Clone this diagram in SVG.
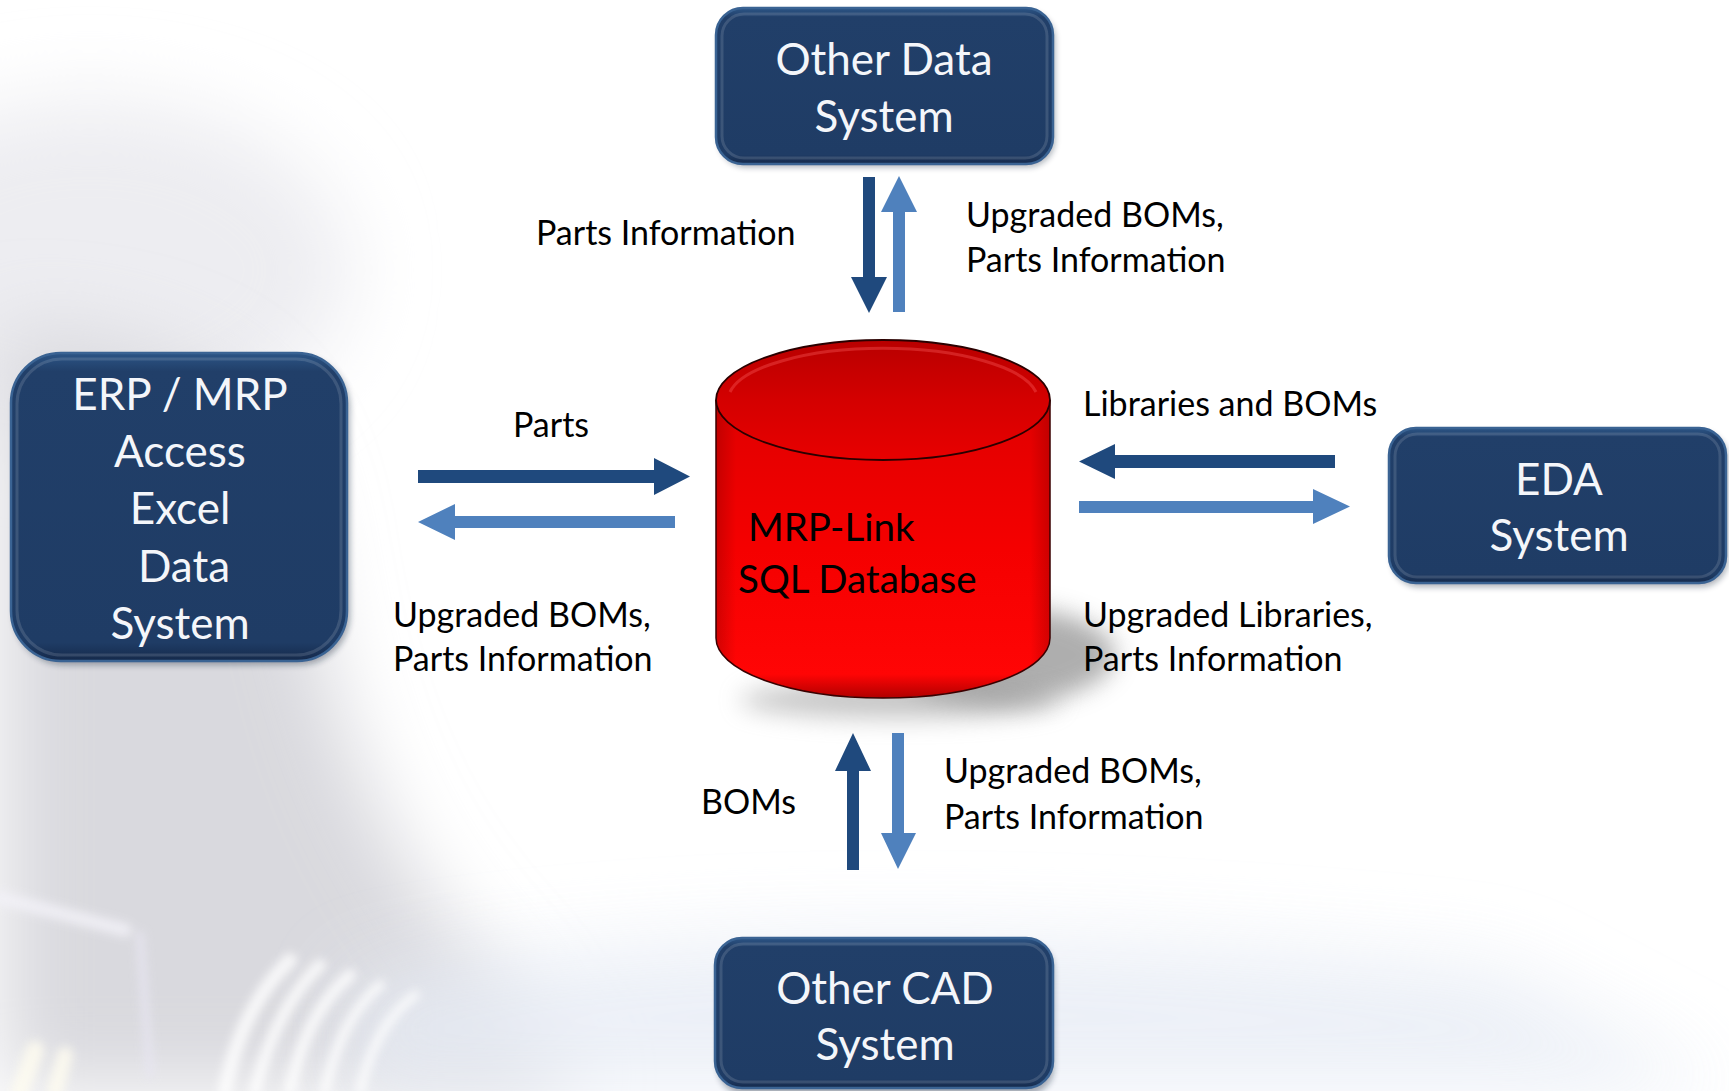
<svg xmlns="http://www.w3.org/2000/svg" width="1729" height="1091" viewBox="0 0 1729 1091">
<defs>
  <style>
    .box { fill: url(#boxFill); stroke: #3A6393; stroke-width: 2.5; }
    .boxin { fill: none; stroke: #FFFFFF; stroke-opacity: 0.13; stroke-width: 3; }
    .btxt { font-family: Lato, "Open Sans", "DejaVu Sans", sans-serif; font-size: 44px; fill: #F4F6FA; text-anchor: middle; }
    .lbl { font-family: Lato, "Open Sans", "DejaVu Sans", sans-serif; font-size: 34px; fill: #000000; }
    .dbtxt { font-family: Lato, "Open Sans", "DejaVu Sans", sans-serif; font-size: 38.5px; fill: #000000; }
    .dark { fill: #1F497D; }
    .light { fill: #4F81BD; }
  </style>
  <linearGradient id="boxFill" x1="0" y1="0" x2="0" y2="1">
    <stop offset="0" stop-color="#2C5586"/>
    <stop offset="0.06" stop-color="#213F69"/>
    <stop offset="0.94" stop-color="#1F3C65"/>
    <stop offset="1" stop-color="#15294A"/>
  </linearGradient>
  <linearGradient id="topFace" x1="0" y1="0" x2="0" y2="1">
    <stop offset="0" stop-color="#B80000"/>
    <stop offset="0.5" stop-color="#D40000"/>
    <stop offset="1" stop-color="#E80000"/>
  </linearGradient>
  <linearGradient id="bodyFill" x1="0" y1="0" x2="0" y2="1">
    <stop offset="0" stop-color="#E00000"/>
    <stop offset="0.5" stop-color="#F50000"/>
    <stop offset="0.92" stop-color="#FF0505"/>
    <stop offset="1" stop-color="#B00000"/>
  </linearGradient>
  <linearGradient id="bodyEdge" x1="0" y1="0" x2="1" y2="0">
    <stop offset="0" stop-color="#800000" stop-opacity="0.35"/>
    <stop offset="0.06" stop-color="#800000" stop-opacity="0"/>
    <stop offset="0.94" stop-color="#800000" stop-opacity="0"/>
    <stop offset="1" stop-color="#800000" stop-opacity="0.35"/>
  </linearGradient>
  <filter id="bgblur" filterUnits="userSpaceOnUse" x="-200" y="-200" width="2129" height="1491">
    <feGaussianBlur stdDeviation="40"/>
  </filter>
  <filter id="softblur" filterUnits="userSpaceOnUse" x="-200" y="-200" width="2129" height="1491">
    <feGaussianBlur stdDeviation="5"/>
  </filter>
  <filter id="shadowblur" filterUnits="userSpaceOnUse" x="-200" y="-200" width="2129" height="1491">
    <feGaussianBlur stdDeviation="12"/>
  </filter>
  <filter id="boxshadow" filterUnits="userSpaceOnUse" x="-200" y="-200" width="2129" height="1491">
    <feGaussianBlur stdDeviation="3"/>
  </filter>
</defs>

<!-- background -->
<rect x="0" y="0" width="1729" height="1091" fill="#FFFFFF"/>
<g id="background">
  <ellipse cx="90" cy="270" rx="260" ry="170" fill="#EDEDF1" filter="url(#bgblur)"/>
  <path d="M0,330 C160,330 270,380 300,520 C325,700 370,850 500,980 L580,1091 L0,1091 Z" fill="#D9D9DE" filter="url(#bgblur)"/>
  <path d="M350,980 Q800,900 1500,970 L1729,1091 L350,1091 Z" fill="#E7ECF5" opacity="0.8" filter="url(#bgblur)"/>
  <g filter="url(#softblur)" opacity="0.8" stroke="#FFFFFF" fill="none" stroke-linecap="round">
    <path d="M0,898 L125,930" stroke-width="14" stroke="#F3F2F8"/>
    <path d="M140,935 L150,1075" stroke-width="8" stroke="#E8E6F2"/>
    <path d="M225,1091 Q240,1010 290,960" stroke-width="14"/>
    <path d="M255,1091 Q275,1010 320,965" stroke-width="12"/>
    <path d="M290,1091 Q305,1015 350,975" stroke-width="12"/>
    <path d="M325,1091 Q340,1020 380,985" stroke-width="10"/>
    <path d="M360,1091 Q375,1025 415,995" stroke-width="9"/>
    <path d="M20,1091 L35,1050" stroke-width="18" stroke="#FFFDF0"/>
    <path d="M55,1091 L65,1055" stroke-width="16" stroke="#FFFDF0"/>
  </g>
</g>

<!-- cylinder shadow -->
<ellipse cx="1000" cy="655" rx="115" ry="48" fill="#8C8C8C" opacity="0.7" filter="url(#shadowblur)"/>
<ellipse cx="900" cy="700" rx="160" ry="18" fill="#8C8C8C" opacity="0.5" filter="url(#shadowblur)"/>

<!-- connectors -->
<g id="connectors">
  <!-- top pair -->
  <polygon class="dark" points="863,177 875,177 875,277 887,277 869,313 851,277 863,277"/>
  <polygon class="light" points="899,176 917,212 905,212 905,312 893,312 893,212 881,212"/>
  <!-- left pair -->
  <polygon class="dark" points="418,470 654,470 654,458 690,476.5 654,495 654,483 418,483"/>
  <polygon class="light" points="418,522 455,504 455,516 675,516 675,528 455,528 455,540"/>
  <!-- right pair -->
  <polygon class="dark" points="1079,461.5 1115,444 1115,455 1335,455 1335,468 1115,468 1115,479"/>
  <polygon class="light" points="1079,501 1313,501 1313,489 1350,506.5 1313,524 1313,513 1079,513"/>
  <!-- bottom pair -->
  <polygon class="dark" points="853,733 871,771 859,771 859,870 847,870 847,771 835,771"/>
  <polygon class="light" points="892,733 904,733 904,833 916,833 898,869 881,833 892,833"/>
</g>

<!-- labels -->
<g id="labels">
  <text class="lbl" x="536" y="245">Parts Information</text>
  <text class="lbl" x="966" y="227">Upgraded BOMs,</text>
  <text class="lbl" x="966" y="272">Parts Information</text>
  <text class="lbl" x="513" y="437">Parts</text>
  <text class="lbl" x="393" y="627">Upgraded BOMs,</text>
  <text class="lbl" x="393" y="671">Parts Information</text>
  <text class="lbl" x="1083" y="416">Libraries and BOMs</text>
  <text class="lbl" x="1083" y="627">Upgraded Libraries,</text>
  <text class="lbl" x="1083" y="671">Parts Information</text>
  <text class="lbl" x="701" y="814">BOMs</text>
  <text class="lbl" x="944" y="783">Upgraded BOMs,</text>
  <text class="lbl" x="944" y="829">Parts Information</text>
</g>

<!-- database -->
<g id="database">
  <path d="M716,400 L716,638 A167,60 0 0 0 1050,638 L1050,400 Z" fill="url(#bodyFill)"/>
  <path d="M716,400 L716,638 A167,60 0 0 0 1050,638 L1050,400 Z" fill="url(#bodyEdge)"/>
  <path d="M716,400 L716,638 A167,60 0 0 0 1050,638 L1050,400" fill="none" stroke="#3A0000" stroke-width="1.5"/>
  <ellipse cx="883" cy="400" rx="167" ry="60" fill="url(#topFace)" stroke="#2A0000" stroke-width="1.8"/>
  <path d="M730,392 A155,52 0 0 1 1036,392" fill="none" stroke="#FF6060" stroke-opacity="0.35" stroke-width="3"/>
  <text class="dbtxt" x="748" y="541">MRP-Link</text>
  <text class="dbtxt" x="738" y="593">SQL Database</text>
</g>

<!-- nodes -->
<g id="other-data-system">
  <rect x="719" y="12" width="336" height="155" rx="27" fill="#0A1A30" opacity="0.35" filter="url(#boxshadow)"/>
  <rect class="box" x="716" y="8" width="337" height="156" rx="27"/>
  <rect class="boxin" x="722" y="14" width="325" height="144" rx="22"/>
  <text class="btxt" x="884" y="75">Other Data</text>
  <text class="btxt" x="884" y="132">System</text>
</g>

<g id="erp-mrp">
  <rect x="14" y="357" width="336" height="308" rx="50" fill="#0A1A30" opacity="0.35" filter="url(#boxshadow)"/>
  <rect class="box" x="11" y="353" width="336" height="308" rx="50"/>
  <rect class="boxin" x="17" y="359" width="324" height="296" rx="45"/>
  <text class="btxt" x="180" y="410">ERP / MRP</text>
  <text class="btxt" x="180" y="467">Access</text>
  <text class="btxt" x="180" y="524">Excel</text>
  <text class="btxt" x="184" y="582">Data</text>
  <text class="btxt" x="180" y="639">System</text>
</g>

<g id="eda-system">
  <rect x="1392" y="432" width="336" height="155" rx="27" fill="#0A1A30" opacity="0.35" filter="url(#boxshadow)"/>
  <rect class="box" x="1389" y="428" width="337" height="155" rx="27"/>
  <rect class="boxin" x="1395" y="434" width="325" height="143" rx="22"/>
  <text class="btxt" x="1559" y="495">EDA</text>
  <text class="btxt" x="1559" y="551">System</text>
</g>

<g id="other-cad-system">
  <rect x="718" y="942" width="336" height="153" rx="27" fill="#0A1A30" opacity="0.35" filter="url(#boxshadow)"/>
  <rect class="box" x="715" y="938" width="338" height="150" rx="27"/>
  <rect class="boxin" x="721" y="944" width="326" height="138" rx="22"/>
  <text class="btxt" x="885" y="1004">Other CAD</text>
  <text class="btxt" x="885" y="1060">System</text>
</g>
</svg>
